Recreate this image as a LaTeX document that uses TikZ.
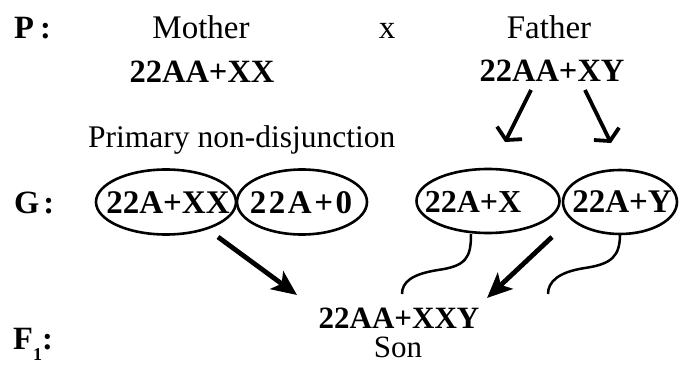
\documentclass[tikz,border=0pt]{standalone}
\usepackage{fontspec}
\setmainfont{Liberation Serif}
\usetikzlibrary{arrows.meta,shapes.geometric}
\begin{document}
\begin{tikzpicture}[x=1pt,y=-1pt,
  txt/.style={anchor=base,inner sep=0pt,font=\fontsize{33}{38}\selectfont},
  btxt/.style={anchor=base,inner sep=0pt,font=\fontsize{32.5}{38}\selectfont\bfseries},
  gtxt/.style={anchor=base,inner sep=0pt,font=\fontsize{33}{38}\selectfont\bfseries},
  gam/.style={draw,ellipse,line width=2.6pt,inner sep=0pt},
  barbarrow/.style={line width=3.8pt,-{Straight Barb[length=8pt,width=28pt]}},
  fatarrow/.style={line width=4.8pt,-{Stealth[length=25pt,width=22pt,inset=6pt]}},
  tail/.style={line width=2.5pt}
]
\useasboundingbox[fill=white] (0,0) rectangle (686,367);

% row labels
\node[btxt,anchor=base west] (P) at (14,38) {P\hspace{6pt}:};
\node[btxt,anchor=base west] (G) at (14,213) {G\hspace{4pt}:};
\node[btxt,anchor=base west] (F) at (13,349) {F\raisebox{-11pt}{\fontsize{18}{20}\selectfont 1}:};

% parents
\node[txt] (mother) at (201,38) {Mother};
\node[txt] (cross) at (387,38) {x};
\node[txt] (father) at (549,38) {Father};
\node[btxt] (mg) at (202,82) {22AA+XX};
\node[btxt] (fg) at (552,81) {22AA+XY};
\node[txt,anchor=base west,font=\fontsize{31.5}{37}\selectfont] (pnd) at (88,147) {Primary non-disjunction};

% gametes
\node[gam,minimum width=140pt,minimum height=65pt] (e1) at (166,202) {};
\node[gam,minimum width=130pt,minimum height=65pt] (e2) at (302,202) {};
\node[gam,minimum width=143pt,minimum height=64pt] (e3) at (488,201) {};
\node[gam,minimum width=114pt,minimum height=64pt] (e4) at (620,202) {};
\node[gtxt] (t1) at (168,213) {22A+XX};
\node[gtxt] (t2) at (301,213) {2\hspace{2.5pt}2\hspace{2.5pt}A\hspace{2.5pt}+\hspace{2.5pt}0};
\node[gtxt,font=\fontsize{32}{37}\selectfont\bfseries] (t3) at (473,212) {22A+X};
\node[gtxt] (t4) at (622,212) {22A+Y};

% offspring
\node[btxt,font=\fontsize{31}{37}\selectfont\bfseries] (son) at (399,328) {22AA+XXY};
\node[txt,font=\fontsize{31}{36}\selectfont] (sonl) at (398,357) {Son};

% coordinates
\coordinate (f1s) at (531,90);
\coordinate (f1e) at (505,142);
\coordinate (f2s) at (585,90);
\coordinate (f2e) at (611,143);
\coordinate (a1s) at (218,237);
\coordinate (a1e) at (297,295);
\coordinate (a2s) at (552,237);
\coordinate (a2e) at (487,298);
\coordinate (w1s) at (471,234);
\coordinate (w1e) at (402,294);
\coordinate (w2s) at (620,234);
\coordinate (w2e) at (548,294);

\draw[barbarrow] (f1s) -- (f1e);
\draw[barbarrow] (f2s) -- (f2e);
\draw[fatarrow] (a1s) -- (a1e);
\draw[fatarrow] (a2s) -- (a2e);

\draw[tail] (w1s) .. controls (471,258) and (466,266) .. (438,270)
            .. controls (412,274) and (402,282) .. (w1e);
\draw[tail] (w2s) .. controls (620,256) and (612,264) .. (585,268)
            .. controls (558,272) and (548,282) .. (w2e);
\end{tikzpicture}
\end{document}
